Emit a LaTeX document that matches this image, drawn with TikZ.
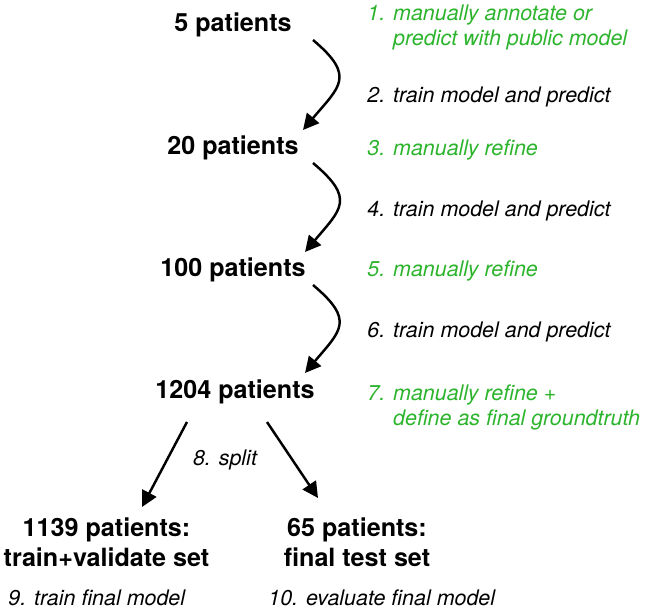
\documentclass[tikz,border=0pt]{standalone}
\usepackage{fontspec}
\setmainfont{TeX Gyre Heros}
\usepackage{xcolor}
\usepackage{tikz}
\usetikzlibrary{arrows.meta, calc}

\definecolor{stepgreen}{RGB}{45,180,45}

\begin{document}
\begin{tikzpicture}[
    pat/.style={font=\fontsize{14.3}{17}\selectfont\bfseries, align=center, inner sep=2pt},
    note/.style={font=\fontsize{12.2}{14.2}\selectfont\itshape, anchor=west, align=left, inner sep=0pt},
    todo/.style={note, text=stepgreen},
    arr/.style={-{Triangle[length=9pt, width=9pt]}, line width=1.4pt},
]
\useasboundingbox (0,0) rectangle (12.9,-12.24);

% patient counts (left column)
\node[pat] (n5) at (4.66,-0.50) {5 patients};
\node[pat] (n20) at (4.66,-2.96) {20 patients};
\node[pat] (n100) at (4.66,-5.40) {100 patients};
\node[pat] (n1204) at (4.70,-7.84) {1204 patients};
\node[pat] (ntrain) at (2.13,-10.84) {1139 patients:\\train+validate set};
\node[pat] (ntest) at (7.14,-10.84) {65 patients:\\final test set};

% steps (right column)
\node[todo] (s1) at (7.34,-0.55) {1. manually annotate or\\\phantom{1. }predict with public model};
\node[note] (s2) at (7.34,-1.94) {2. train model and predict};
\node[todo] (s3) at (7.34,-3.00) {3. manually refine};
\node[note] (s4) at (7.34,-4.22) {4. train model and predict};
\node[todo] (s5) at (7.34,-5.42) {5. manually refine};
\node[note] (s6) at (7.34,-6.64) {6. train model and predict};
\node[todo] (s7) at (7.34,-8.15) {7. manually refine +\\\phantom{7. }define as final groundtruth};
\node[note, anchor=center] (s8) at (4.50,-9.20) {8. split};
\node[note] (s9) at (0.16,-11.96) {9. train final model};
\node[note] (s10) at (5.36,-11.96) {10. evaluate final model};

% iterations
\draw[arr] ($(n5)+(1.6,-0.3)$) to[out=-40, in=50, looseness=1.6] ($(n20)+(1.4,0.36)$);
\draw[arr] ($(n20)+(1.6,-0.3)$) to[out=-40, in=50, looseness=1.6] ($(n100)+(1.44,0.36)$);
\draw[arr] ($(n100)+(1.6,-0.3)$) to[out=-40, in=50, looseness=1.6] ($(n1204)+(1.40,0.38)$);

% split
\draw[arr] ($(n1204)+(-0.96,-0.6)$) -- ($(ntrain)+(0.71,0.70)$);
\draw[arr] ($(n1204)+(0.64,-0.6)$) -- ($(ntest)+(-0.78,0.88)$);

\end{tikzpicture}
\end{document}
